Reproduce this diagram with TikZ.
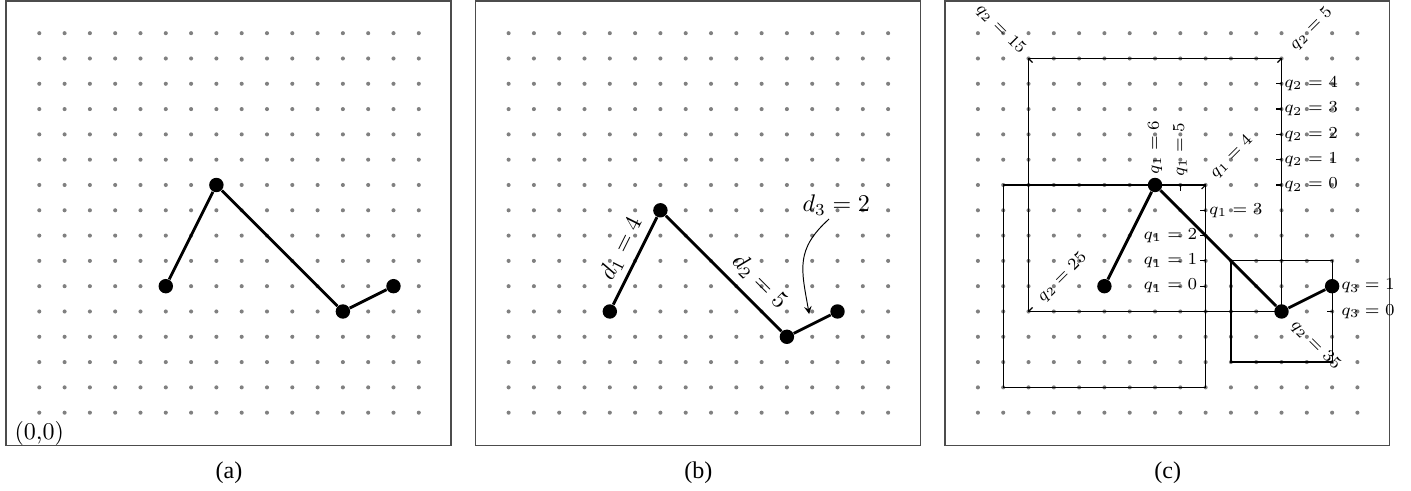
\documentclass[tikz,border=0pt]{standalone}
\usepackage{fontspec}
\newfontfamily\capfont{Liberation Serif}
\begin{document}
\begin{tikzpicture}[
  x=0.37cm, y=0.37cm,
  panelbox/.style={draw=black!70, line width=0.6pt},
  atom/.style={circle, fill=black, inner sep=0pt, minimum size=6pt},
  bond/.style={line width=1.2pt},
  wall/.style={line width=0.5pt},
  lbl/.style={font=\scriptsize, inner sep=1pt},
  >=stealth
]
\useasboundingbox (-1.553,-3.095) rectangle (54.218,16.312);
\foreach \dx/\cap in {0/a, 18.55/b, 37.1/c} {
  \begin{scope}[shift={(\dx,0)}]
    \draw[panelbox] (-1.31,-1.3) rectangle (16.27,16.27);
    \foreach \i in {0,...,15}
      \foreach \j in {0,...,15}
        \fill[gray] (\i,\j) circle (0.85pt);
    \node (cap\cap) at (7.5,-2.36) {\capfont(\cap)};
  \end{scope}
}

\node[below] (orig) at (0,0) {(0,0)};
\node[atom] (a1) at (5,5) {};
\node[atom] (a2) at (7,9) {};
\node[atom] (a3) at (12,4) {};
\node[atom] (a4) at (14,5) {};
\draw[bond] (a1) -- (a2) -- (a3) -- (a4);

\begin{scope}[shift={(18.55,0)}]
\node[atom] (b1) at (4,4) {};
\node[atom] (b2) at (6,8) {};
\node[atom] (b3) at (11,3) {};
\node[atom] (b4) at (13,4) {};
\draw[bond] (b1) -- node[above, sloped, pos=0.55, inner sep=2.6pt] (d1) {$d_1 = 4$} (b2)
  -- node[above, sloped, pos=0.69] (d2) {$d_2 = 5$} (b3) -- (b4);
\node (d3) at (12.95,8.2) {$d_3 = 2$};
\coordinate (d3tip) at (11.88,3.9);
\draw[->] ([xshift=-3pt, yshift=2pt]d3.south) to[out=222, in=100, looseness=1.2] (d3tip);
\end{scope}

\begin{scope}[shift={(37.1,0)}]
\draw[wall] (1,1) rectangle (9,9);
\draw[wall] (2,4) rectangle (12,14);
\draw[wall] (10,2) rectangle (14,6);
\foreach \k in {0,...,3}
  \draw[wall] (9,5+\k) -- ++(-0.22,0);
\draw[wall] (9,9) -- ++(-0.16,-0.16);
\draw[wall] (8,9) -- ++(0,-0.22);
\foreach \k in {0,...,4}
  \draw[wall] (12,9+\k) -- ++(-0.22,0);
\draw[wall] (12,14) -- ++(-0.16,-0.16);
\draw[wall] (2,14) -- ++(0.16,-0.16);
\draw[wall] (2,4) -- ++(0.16,0.16);
\draw[wall] (14,4) -- ++(-0.22,0);
\node[atom] (c1) at (5,5) {};
\node[atom] (c2) at (7,9) {};
\node[atom] (c3) at (12,4) {};
\node[atom] (c4) at (14,5) {};
\draw[bond] (c1) -- (c2) -- (c3) -- (c4);
\foreach \k in {0,1,2}
  \node[lbl, anchor=east] (q1n\k) at (8.78,5+\k) {$q_1 = \k$};
\node[lbl, anchor=west] (q1n3) at (9.02,8) {$q_1 = 3$};
\node[lbl, anchor=west, rotate=45] (q1n4) at (9.2,9.3) {$q_1 = 4$};
\node[lbl, anchor=west, rotate=90] (q1n5) at (8,9.22) {$q_1 = 5$};
\node[lbl, anchor=west, rotate=90] (q1n6) at (7,9.3) {$q_1 = 6$};
\foreach \k in {0,...,4}
  \node[lbl, anchor=west] (q2n\k) at (12,9+\k) {$q_2 = \k$};
\node[lbl, anchor=west, rotate=45] (q2n5) at (12.35,14.35) {$q_2 = 5$};
\node[lbl, anchor=east, rotate=-45] (q2n15) at (1.86,14.18) {$q_2 = 15$};
\node[lbl, anchor=west, rotate=45] (q2n25) at (2.38,4.38) {$q_2 = 25$};
\node[lbl, anchor=west, rotate=-45] (q2n35) at (12.38,3.62) {$q_2 = 35$};
\node[lbl, anchor=west] (q3n0) at (14.25,4) {$q_3 = 0$};
\node[lbl, anchor=west] (q3n1) at (14.25,5) {$q_3 = 1$};
\end{scope}
\end{tikzpicture}
\end{document}
